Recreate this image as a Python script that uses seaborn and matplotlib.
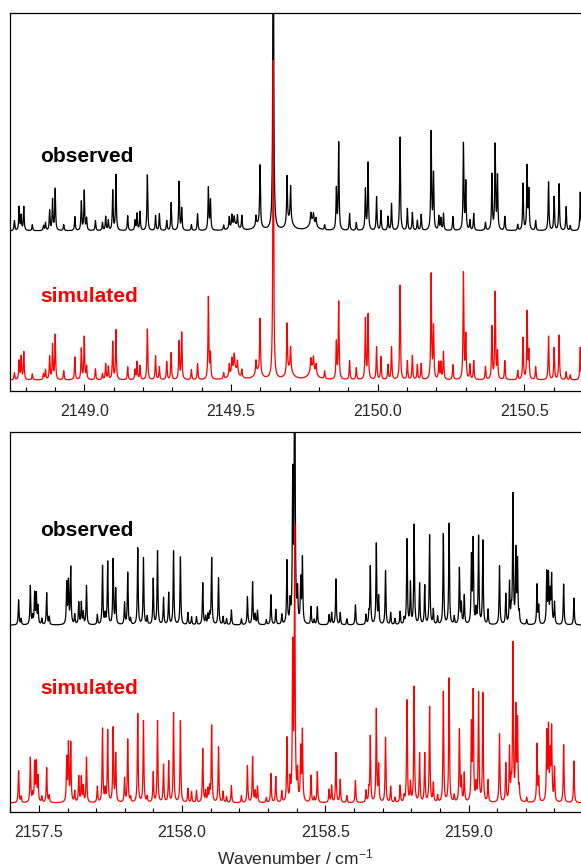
import numpy as np
import pandas as pd
import matplotlib
matplotlib.use("Agg")
import matplotlib.pyplot as plt
import seaborn as sns
from matplotlib.ticker import MultipleLocator

# ---- top window: line positions (cm-1) and peak heights (arb. units) ----
top_pos = [2148.762, 2148.778, 2148.785, 2148.794, 2148.823, 2148.861, 2148.868, 2148.882,
           2148.892, 2148.901, 2148.930, 2148.968, 2148.990, 2149.000, 2149.008, 2149.038,
           2149.062, 2149.073, 2149.082, 2149.097, 2149.108, 2149.148, 2149.173, 2149.180,
           2149.190, 2149.215, 2149.243, 2149.256, 2149.281, 2149.296, 2149.323, 2149.332,
           2149.365, 2149.386, 2149.423, 2149.430, 2149.475, 2149.494, 2149.503, 2149.511,
           2149.522, 2149.537, 2149.585, 2149.599, 2149.644, 2149.691, 2149.703, 2149.772,
           2149.781, 2149.790, 2149.819, 2149.859, 2149.867, 2149.904, 2149.927, 2149.958,
           2149.967, 2149.996, 2150.011, 2150.035, 2150.047, 2150.076, 2150.101, 2150.118,
           2150.135, 2150.148, 2150.182, 2150.190, 2150.208, 2150.215, 2150.224, 2150.256,
           2150.292, 2150.300, 2150.314, 2150.327, 2150.367, 2150.389, 2150.400, 2150.408,
           2150.433, 2150.477, 2150.495, 2150.509, 2150.515, 2150.538, 2150.582, 2150.601,
           2150.618, 2150.642, 2150.656, 2150.690]
top_sim = [7, 19, 23, 28, 6, 6, 10, 23, 35, 45, 9, 23, 31, 43, 13, 11,
           6, 16, 13, 38, 50, 13, 10, 18, 14, 51, 24, 13, 18, 27, 38, 47,
           10, 16, 83, 25, 6, 12, 14, 14, 12, 8, 13, 55, 320, 50, 23, 12,
           12, 10, 8, 37, 78, 19, 12, 61, 65, 33, 23, 15, 33, 95, 19, 24,
           15, 16, 106, 52, 17, 17, 28, 15, 107, 44, 15, 19, 13, 53, 87, 27,
           19, 9, 42, 68, 27, 13, 44, 32, 45, 8, 5, 33]
top_obs = [10, 24, 15, 24, 6, 5, 8, 20, 31, 42, 6, 14, 29, 40, 12, 10,
           8, 14, 10, 40, 56, 15, 10, 17, 19, 56, 15, 17, 10, 28, 49, 22,
           6, 17, 43, 30, 5, 12, 12, 8, 12, 14, 10, 61, 400, 48, 35, 10,
           8, 8, 5, 41, 88, 17, 8, 41, 68, 34, 20, 14, 27, 94, 22, 18,
           10, 16, 99, 56, 14, 12, 17, 14, 87, 48, 10, 17, 8, 56, 85, 54,
           14, 6, 47, 64, 39, 10, 49, 34, 47, 24, 5, 39]
# broad bands under the top spectrum
top_band_pos = [2149.512, 2149.592, 2149.700, 2149.778]
top_band_sim = [12, 8, 10, 12]
top_band_obs = [6, 6, 10, 10]

# ---- bottom window ----
bot_pos = [2157.429, 2157.438, 2157.470, 2157.478, 2157.485, 2157.491, 2157.497, 2157.510,
           2157.527, 2157.536, 2157.597, 2157.603, 2157.611, 2157.625, 2157.639, 2157.648,
           2157.655, 2157.666, 2157.704, 2157.722, 2157.731, 2157.740, 2157.759, 2157.768,
           2157.799, 2157.810, 2157.820, 2157.845, 2157.865, 2157.878, 2157.899, 2157.914,
           2157.935, 2157.953, 2157.970, 2157.994, 2158.020, 2158.033, 2158.050, 2158.072,
           2158.082, 2158.090, 2158.096, 2158.103, 2158.127, 2158.143, 2158.155, 2158.172,
           2158.207, 2158.228, 2158.246, 2158.255, 2158.263, 2158.294, 2158.310, 2158.327,
           2158.348, 2158.366, 2158.377, 2158.386, 2158.393, 2158.403, 2158.414, 2158.420,
           2158.450, 2158.461, 2158.472, 2158.513, 2158.522, 2158.537, 2158.552, 2158.575,
           2158.605, 2158.642, 2158.652, 2158.657, 2158.678, 2158.686, 2158.710, 2158.728,
           2158.743, 2158.761, 2158.775, 2158.785, 2158.797, 2158.810, 2158.829, 2158.847,
           2158.864, 2158.877, 2158.892, 2158.912, 2158.932, 2158.950, 2158.968, 2158.975,
           2158.985, 2159.010, 2159.016, 2159.026, 2159.035, 2159.050, 2159.068, 2159.108,
           2159.130, 2159.143, 2159.149, 2159.155, 2159.165, 2159.171, 2159.177, 2159.203,
           2159.239, 2159.245, 2159.273, 2159.279, 2159.285, 2159.290, 2159.300, 2159.332,
           2159.368]
bot_sim = [32, 6, 45, 8, 39, 39, 25, 6, 35, 7, 43, 57, 59, 11, 26, 25,
           16, 45, 16, 74, 12, 72, 74, 48, 24, 63, 5, 89, 82, 6, 30, 82,
           38, 41, 90, 82, 14, 11, 12, 54, 11, 13, 14, 77, 56, 11, 6, 17,
           7, 37, 46, 11, 16, 5, 29, 26, 11, 64, 20, 151, 270, 28, 52, 70,
           27, 5, 31, 13, 17, 50, 23, 7, 22, 12, 11, 66, 93, 36, 65, 16,
           5, 17, 6, 102, 19, 116, 49, 49, 96, 19, 7, 111, 124, 7, 72, 23,
           29, 75, 108, 16, 109, 109, 22, 69, 38, 53, 15, 157, 91, 79, 12, 5,
           58, 23, 68, 72, 44, 72, 34, 58, 42]
bot_obs = [25, 6, 39, 8, 31, 30, 18, 6, 32, 8, 41, 42, 57, 10, 22, 22,
           12, 39, 10, 59, 10, 63, 65, 35, 22, 52, 6, 77, 67, 8, 46, 74,
           27, 32, 74, 68, 12, 8, 8, 42, 8, 10, 10, 67, 47, 8, 6, 15,
           6, 28, 43, 10, 14, 5, 30, 15, 10, 63, 20, 142, 350, 30, 43, 65,
           18, 5, 18, 10, 12, 46, 12, 6, 20, 10, 10, 58, 81, 27, 54, 12,
           6, 13, 6, 85, 41, 100, 41, 39, 90, 15, 8, 91, 101, 8, 56, 20,
           29, 66, 83, 14, 88, 84, 15, 59, 30, 41, 12, 129, 72, 62, 10, 5,
           40, 18, 51, 48, 30, 48, 22, 41, 27]

hw = 0.0016  # lorentzian half width, cm-1


def spectrum(x, pos, hts, width=hw):
    p = np.asarray(pos)[:, None]
    h = np.asarray(hts)[:, None]
    return (h / (1 + ((x - p) / width) ** 2)).sum(axis=0)


sns.set_theme(style="white")
plt.rcParams['font.family'] = ['Liberation Sans', 'DejaVu Sans']
plt.rcParams['mathtext.fontset'] = 'custom'
plt.rcParams['mathtext.rm'] = 'Liberation Sans'
plt.rcParams['mathtext.default'] = 'regular'

fig = plt.figure(figsize=(5.81, 8.67), dpi=100)
ax1 = fig.add_axes([0.0172, 0.549, 0.983, 0.436])
ax2 = fig.add_axes([0.0172, 0.0634, 0.983, 0.438])

panels = [
    (ax1, (2148.747, 2150.693), top_pos, top_sim, top_obs,
     (top_band_pos, top_band_sim, top_band_obs), 161, 11, 0.62, 0.249),
    (ax2, (2157.399, 2159.393), bot_pos, bot_sim, bot_obs,
     None, 187, 9, 0.742, 0.324),
]

for ax, xlim, pos, sim, obs, bands, obs_off, sim_off, ty_obs, ty_sim in panels:
    x = np.arange(xlim[0], xlim[1], 0.0003)
    y_obs = spectrum(x, pos, obs) + obs_off
    y_sim = spectrum(x, pos, sim) + sim_off
    if bands is not None:
        y_obs += spectrum(x, bands[0], bands[2], 0.012)
        y_sim += spectrum(x, bands[0], bands[1], 0.012)
    df = pd.DataFrame({'x': x, 'obs': y_obs, 'sim': y_sim})
    sns.lineplot(data=df, x='x', y='obs', ax=ax, color='black', lw=0.9,
                 estimator=None, sort=False)
    sns.lineplot(data=df, x='x', y='sim', ax=ax, color='red', lw=0.9,
                 estimator=None, sort=False)
    ax.set_xlim(*xlim)
    ax.set_ylim(0, 380)
    ax.set_yticks([])
    ax.set_ylabel('')
    ax.set_xlabel('')
    ax.xaxis.set_major_locator(MultipleLocator(0.5))
    ax.xaxis.set_minor_locator(MultipleLocator(0.1))
    ax.xaxis.set_major_formatter(matplotlib.ticker.FormatStrFormatter('%.1f'))
    ax.tick_params(axis='x', which='major', direction='in', length=5, width=0.8,
                   labelsize=11.5, color='black', bottom=True, pad=9)
    ax.tick_params(axis='x', which='minor', direction='in', length=3, width=0.8,
                   color='black', bottom=True)
    for side in ['left', 'top', 'bottom']:
        ax.spines[side].set_color('black')
        ax.spines[side].set_linewidth(0.9)
    ax.spines['right'].set_visible(False)
    ax.text(0.0525, ty_obs, 'observed', transform=ax.transAxes, fontsize=15,
            fontweight='bold', color='black', va='center', ha='left')
    ax.text(0.0525, ty_sim, 'simulated', transform=ax.transAxes, fontsize=15,
            fontweight='bold', color='red', va='center', ha='left')

ax2.set_xlabel('Wavenumber / cm$^{-1}$', fontsize=12.5, labelpad=6)

fig.savefig('out.png', dpi=100)
